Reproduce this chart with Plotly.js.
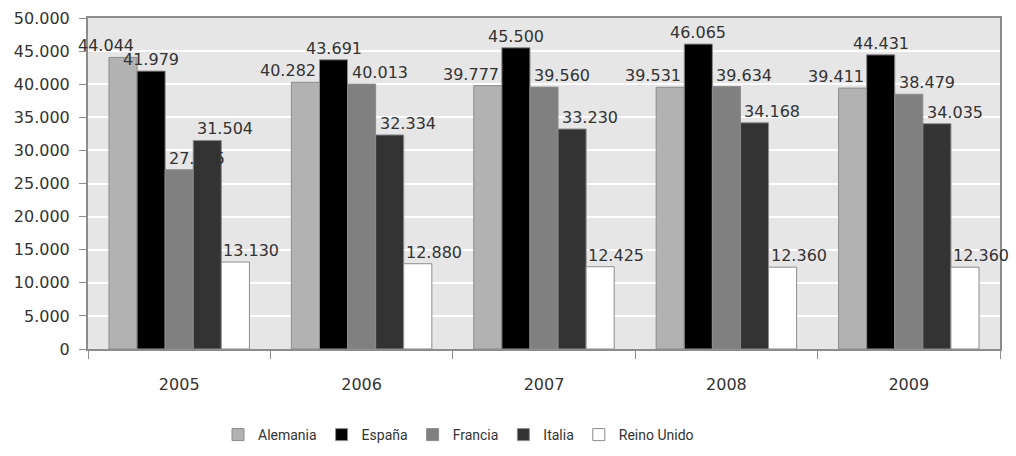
<!DOCTYPE html>
<html>
<head>
<meta charset="utf-8">
<script src="https://cdn.plot.ly/plotly-3.0.1.min.js"></script>
<style>
  html, body { margin: 0; padding: 0; background: #ffffff; }
  #chart { width: 1016px; height: 456px; }
</style>
</head>
<body>
<div id="chart"></div>
<script>
// Years on the category axis
const years = ['2005', '2006', '2007', '2008', '2009'];

// Values per country
const alemania   = [44044, 40282, 39777, 39531, 39411];
const espana     = [41979, 43691, 45500, 46065, 44431];
const francia    = [27075, 40013, 39560, 39634, 38479];
const italia     = [31504, 32334, 33230, 34168, 34035];
const reinoUnido = [13130, 12880, 12425, 12360, 12360];

const seriesNames = ['Alemania', 'España', 'Francia', 'Italia', 'Reino Unido'];
const seriesValues = [alemania, espana, francia, italia, reinoUnido];
const seriesColors = ['#b2b2b2', '#000000', '#808080', '#333333', '#ffffff'];
// horizontal nudge of each series' value labels, in px
const labelNudge = [-17, 0, 18, 18, 16];

// Y axis ticks
const yTicks = [0, 5000, 10000, 15000, 20000, 25000, 30000, 35000, 40000, 45000, 50000];

const FONT = 'DejaVu Sans, sans-serif';
const LEGEND_FONT = 'Roboto, sans-serif';
const TEXT_COLOR = '#333333';
const BAR_GAP = 0.23;

const traces = seriesNames.map((name, i) => ({
  type: 'bar',
  name: name,
  x: years,
  y: seriesValues[i],
  marker: { color: seriesColors[i], line: { color: '#8c8c8c', width: 1 } },
  hoverinfo: 'x+y+name'
}));

// Value labels drawn above every bar, on top of all bars
const fmt = v => String(v).replace(/\B(?=(\d{3})+(?!\d))/g, '.');
const barSlot = (1 - BAR_GAP) / seriesNames.length;
const annotations = [];
seriesValues.forEach((vals, i) => {
  vals.forEach((v, c) => {
    annotations.push({
      xref: 'x', yref: 'y',
      x: c + (i - (seriesNames.length - 1) / 2) * barSlot,
      y: v,
      text: fmt(v),
      showarrow: false,
      xanchor: 'center',
      yanchor: 'bottom',
      xshift: labelNudge[i],
      yshift: 0,
      font: { family: FONT, size: 16, color: TEXT_COLOR }
    });
  });
});

const layout = {
  width: 1016,
  height: 456,
  margin: { l: 88, r: 16, t: 18, b: 107 },
  paper_bgcolor: '#ffffff',
  plot_bgcolor: '#e6e6e6',
  separators: ',.',
  barmode: 'group',
  bargap: BAR_GAP,
  bargroupgap: 0,
  font: { family: FONT, size: 16, color: TEXT_COLOR },
  xaxis: {
    type: 'category',
    range: [-0.5, years.length - 0.5],
    automargin: false,
    showgrid: false,
    showline: true,
    linecolor: '#8c8c8c',
    linewidth: 2,
    mirror: true,
    ticks: 'outside',
    tickson: 'boundaries',
    ticklen: 8,
    tickcolor: '#8c8c8c',
    tickwidth: 1,
    ticklabelstandoff: 20,
    tickfont: { family: FONT, size: 16, color: TEXT_COLOR },
    fixedrange: true
  },
  yaxis: {
    range: [0, 50000],
    automargin: false,
    tickvals: yTicks,
    tickformat: ',d',
    showgrid: true,
    gridcolor: '#ffffff',
    gridwidth: 2,
    zeroline: false,
    showline: true,
    linecolor: '#8c8c8c',
    linewidth: 2,
    mirror: true,
    ticks: 'outside',
    ticklen: 7,
    tickcolor: '#8c8c8c',
    tickwidth: 1,
    ticklabelstandoff: 6,
    tickfont: { family: FONT, size: 16, color: TEXT_COLOR },
    fixedrange: true
  },
  annotations: annotations,
  showlegend: true,
  legend: {
    orientation: 'h',
    xref: 'container',
    yref: 'container',
    x: 218 / 1016,
    xanchor: 'left',
    y: 1 - 435 / 456,
    yanchor: 'middle',
    font: { family: LEGEND_FONT, size: 14, color: TEXT_COLOR },
    bgcolor: 'rgba(0,0,0,0)',
    traceorder: 'normal'
  }
};

Plotly.newPlot('chart', traces, layout, { displayModeBar: false, staticPlot: true });
</script>
</body>
</html>
